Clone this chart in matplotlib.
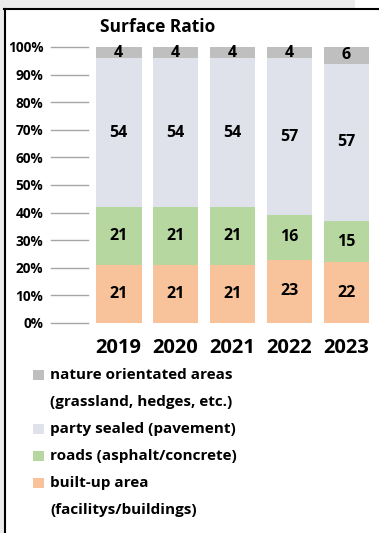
import matplotlib
matplotlib.use("Agg")
import matplotlib.pyplot as plt
from matplotlib.patches import Rectangle
from matplotlib.lines import Line2D

plt.rcParams['font.family'] = ['Open Sans', 'DejaVu Sans']
plt.rcParams['font.weight'] = 'bold'

years = ["2019", "2020", "2021", "2022", "2023"]
built_up = [21, 21, 21, 23, 22]
roads = [21, 21, 21, 16, 15]
sealed = [54, 54, 54, 57, 57]
nature = [4, 4, 4, 4, 6]

series_names = ["built-up area\n(facilitys/buildings)",
                "roads (asphalt/concrete)",
                "party sealed (pavement)",
                "nature orientated areas\n(grassland, hedges, etc.)"]
colors = ["#f8c39a", "#b7d7a0", "#dfe1eb", "#bfbfbf"]
yticks = [0, 10, 20, 30, 40, 50, 60, 70, 80, 90, 100]

W, H = 379, 533
fig = plt.figure(figsize=(W / 100, H / 100), dpi=100)
fig.patch.set_facecolor("white")

# grey window chrome around the frame
fig.add_artist(Rectangle((0, 1 - 9 / H), 355 / W, 9 / H, transform=fig.transFigure,
                         facecolor="#ececec", edgecolor="none"))
fig.add_artist(Rectangle((0, 0), 4 / W, 1, transform=fig.transFigure,
                         facecolor="#ececec", edgecolor="none"))
fig.add_artist(Line2D([4 / W, 1], [1 - 9 / H, 1 - 9 / H], transform=fig.transFigure,
                      color="black", lw=1.5))
fig.add_artist(Line2D([4.5 / W, 4.5 / W], [0, 1 - 9 / H], transform=fig.transFigure,
                      color="black", lw=1.5))

ax = fig.add_axes([96 / W, 1 - 323 / H, 273 / W, 276 / H])
x = list(range(len(years)))
bottom = [0] * len(years)
for vals, col in zip([built_up, roads, sealed, nature], colors):
    bars = ax.bar(x, vals, width=0.8, bottom=bottom, color=col, zorder=2)
    ax.bar_label(bars, label_type="center", fontsize=11.5, fontweight="bold",
                 color="black")
    bottom = [b + v for b, v in zip(bottom, vals)]

ax.set_xlim(-0.4, 4.4)
ax.set_ylim(0, 100)
for s in ax.spines.values():
    s.set_visible(False)

# short grey guide lines left of the first bar
for t in yticks:
    ax.plot([-45 / 273, -8 / 273], [t, t], transform=ax.get_yaxis_transform(),
            color="#a6a6a6", lw=1, clip_on=False)

ax.set_yticks(yticks)
ax.set_yticklabels([f"{t}%" for t in yticks], fontsize=9.8, fontweight="bold")
ax.tick_params(axis="y", length=0, pad=38)
ax.set_xticks(x)
ax.set_xticklabels(years, fontsize=14.5, fontweight="bold")
ax.tick_params(axis="x", length=0, pad=11)

fig.text(158 / W, 1 - 27 / H, "Surface Ratio", ha="center", va="center",
         fontsize=12.5, fontweight="bold")

# legend, top entry first
legend_rows = [(375, 402), (429, None), (456, None), (483, 510)]
for (y1, y2), name, col in zip(legend_rows, series_names[::-1], colors[::-1]):
    fig.add_artist(Rectangle((33 / W, 1 - (y1 + 5) / H), 11 / W, 10 / H,
                             transform=fig.transFigure, facecolor=col, edgecolor="none"))
    lines = name.split("\n")
    fig.text(50 / W, 1 - y1 / H, lines[0], ha="left", va="center",
             fontsize=11, fontweight="bold")
    if y2 is not None:
        fig.text(50 / W, 1 - y2 / H, lines[1], ha="left", va="center",
                 fontsize=11, fontweight="bold")

fig.savefig("out.png", dpi=100)
